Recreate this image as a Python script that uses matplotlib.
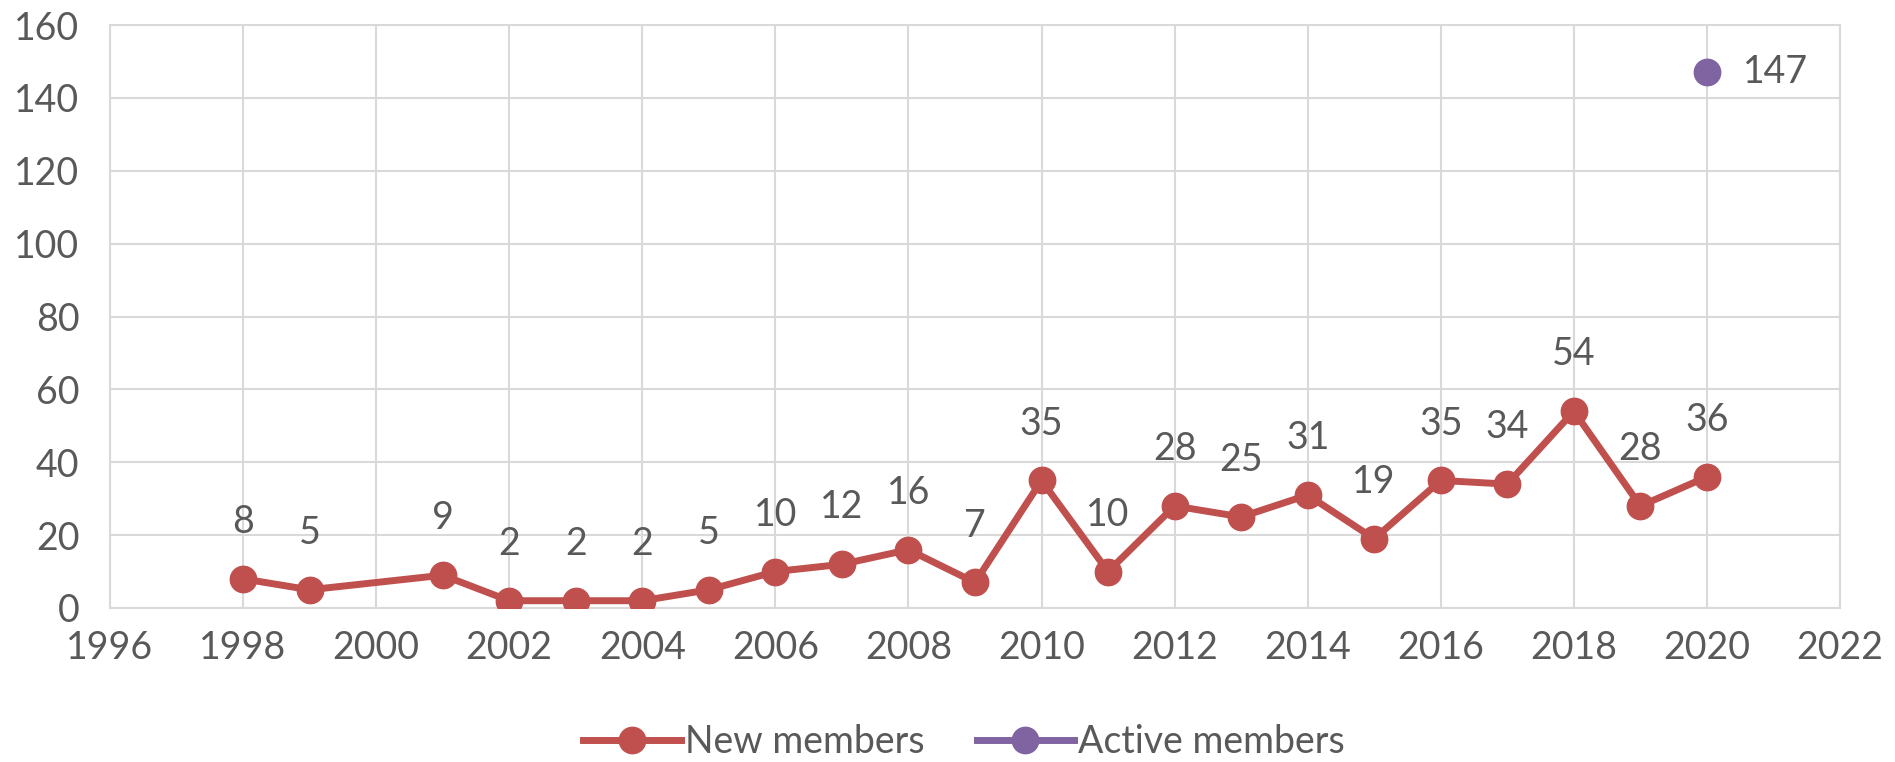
import matplotlib
matplotlib.use("Agg")
import matplotlib.pyplot as plt

plt.rcParams['font.family'] = ['Lato', 'DejaVu Sans']

years = [1998, 1999, 2001, 2002, 2003, 2004, 2005, 2006, 2007, 2008, 2009,
         2010, 2011, 2012, 2013, 2014, 2015, 2016, 2017, 2018, 2019, 2020]
new_members = [8, 5, 9, 2, 2, 2, 5, 10, 12, 16, 7,
               35, 10, 28, 25, 31, 19, 35, 34, 54, 28, 36]
active_years = [2020]
active_members = [147]

red = '#C0504D'
purple = '#8064A2'
txt = '#595959'
grid = '#D9D9D9'

fig = plt.figure(figsize=(18.95, 7.62), dpi=100)
ax = fig.add_axes([110/1895, 1 - 608/762, (1840-110)/1895, (608-25)/762])

ax.plot(years, new_members, color=red, lw=5, marker='o', ms=19,
        label='New members', zorder=3)
ax.plot(active_years, active_members, color=purple, lw=5, marker='o', ms=19,
        label='Active members', zorder=3)

fs = 27
for x, y in zip(years, new_members):
    ax.annotate(str(y), (x, y), xytext=(0, 41), textcoords='offset points',
                ha='center', va='center', fontsize=fs, color=txt)
for x, y in zip(active_years, active_members):
    ax.annotate(str(y), (x, y), xytext=(26, 0), textcoords='offset points',
                ha='left', va='center', fontsize=fs, color=txt)

ax.set_xlim(1996, 2022)
ax.set_ylim(0, 160)
ax.set_xticks(range(1996, 2023, 2))
ax.set_yticks(range(0, 161, 20))
ax.grid(True, color=grid, lw=1.5, zorder=0)
for s in ax.spines.values():
    s.set_color(grid)
    s.set_linewidth(1.5)
ax.tick_params(length=0, labelsize=fs, labelcolor=txt, pad=16)
ax.tick_params(axis='y', pad=22)

fig.legend(loc='center', bbox_to_anchor=(964/1895, 1 - 742/762), ncol=2,
           frameon=False, fontsize=fs, labelcolor=txt, handlelength=2.6,
           columnspacing=1.4, handletextpad=0.1, borderpad=0.2)

fig.savefig('out.png', dpi=100)
